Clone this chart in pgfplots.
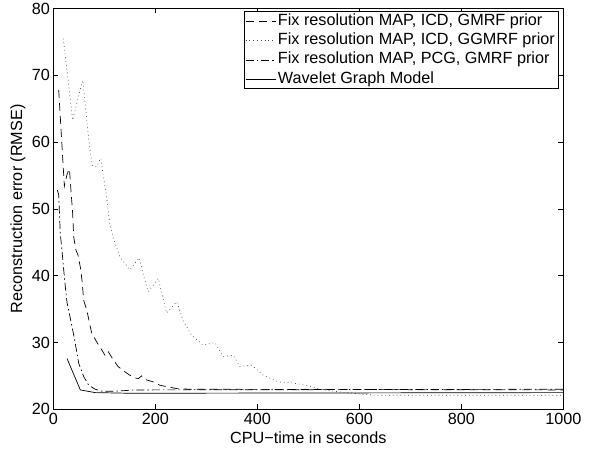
\documentclass[border=0pt]{standalone}
\usepackage{fontspec}
\setmainfont{Liberation Sans}
\usepackage{pgfplots}
\pgfplotsset{compat=1.18}
\begin{document}
\begin{tikzpicture}[font=\fontsize{16.2bp}{19bp}\selectfont]
\begin{axis}[
 scale only axis, width=510bp, height=400.8bp,
 xmin=0, xmax=1000, ymin=20, ymax=80,
 xtick={0,200,...,1000}, ytick={20,30,...,80},
 /pgf/number format/assume math mode=true,
 /pgf/number format/1000 sep={},
 tick align=inside, major tick length=5bp,
 axis line style={line width=1bp},
 every tick/.style={black, line width=0.6bp},
 xlabel={CPU−time in seconds},
 ylabel={Reconstruction error (RMSE)},
 xlabel style={at={(axis description cs:0.5,-0.0716)}, anchor=center},
 ylabel style={at={(axis description cs:-0.0692,0.5)}, anchor=center},
 legend cell align=left,
 legend image code/.code={\draw[#1] (0bp,0bp) -- (30bp,0bp);},
 legend style={at={(axis description cs:1,1)}, anchor=north east, xshift=-5bp, yshift=-3bp,
   draw=black, line width=0.8bp, inner xsep=1bp, inner ysep=0bp,
   nodes={inner sep=2bp, text height=11.7bp, text depth=3.5bp}},
]
\addplot[black, line width=0.7bp, dash pattern=on 8bp off 5bp] coordinates {
(10.6,67.8) (21.7,53.4) (27,55.2) (31.6,56.0) (35.3,52.1) (38,49.3) (40,45.8) (44.5,43.8)
(48.4,43.1) (53,41.3) (56.3,39.3) (59.6,36.3) (65.5,34.9) (75.3,31.4) (85,30.1) (95,28.9)
(102,28.0) (108,28.6) (117.6,27.4) (127,26.4) (140.6,25.6) (150,25.1) (160,24.7) (167,24.6)
(173,25.0) (183,24.4) (196,24.1) (209,23.6) (222,23.4) (242,23.1) (268,23.0) (1000,22.9)};
\addlegendentry{Fix resolution MAP, ICD, GMRF prior}
\addplot[black!75, line width=0.6bp, dash pattern=on 0.8bp off 3bp] coordinates {
(19.6,75.5) (38,63.3) (57.6,69.3) (61,67) (67.5,61.8) (72,58.8) (76.5,56.5) (85,56.3)
(93,57.6) (96.7,55.6) (104,52.1) (111,47.6) (117.6,45.6) (130.8,42.8) (150,40.9) (168.4,42.7)
(176,40.3) (186,37.6) (206,39.6) (222,34.4) (242,36.1) (255,33.2) (271,31.1) (294,29.6)
(317,30.0) (333,27.9) (353,28.1) (366,26.4) (389,26.6) (412,25.1) (441,24.1) (464,24.0)
(497,23.6) (523,23.0) (562,22.6) (600,22.3) (634,22.1) (1000,22.1)};
\addlegendentry{Fix resolution MAP, ICD, GGMRF prior}
\addplot[black, line width=0.7bp, dash pattern=on 8bp off 3bp on 1.5bp off 3bp] coordinates {
(8,52.8) (10.6,52.1) (13.7,46.3) (17,43.8) (20.4,40.9) (23.5,38.4) (26.9,36.0) (36.7,32.4)
(43,29.9) (49.8,26.9) (59.6,24.9) (69.4,23.6) (82.4,23.0) (95.5,22.7) (120,22.7) (160,22.9)
(1000,23.0)};
\addlegendentry{Fix resolution MAP, PCG, GMRF prior}
\addplot[black, line width=0.7bp] coordinates {
(26.9,27.6) (53,22.9) (82,22.5) (150,22.4) (1000,22.5)};
\addlegendentry{Wavelet Graph Model}
\end{axis}
\pgfresetboundingbox
\path ([shift={(-53.3bp,-43.7bp)}]current axis.south west) rectangle ([shift={(39.7bp,8.5bp)}]current axis.north east);
\end{tikzpicture}
\end{document}
